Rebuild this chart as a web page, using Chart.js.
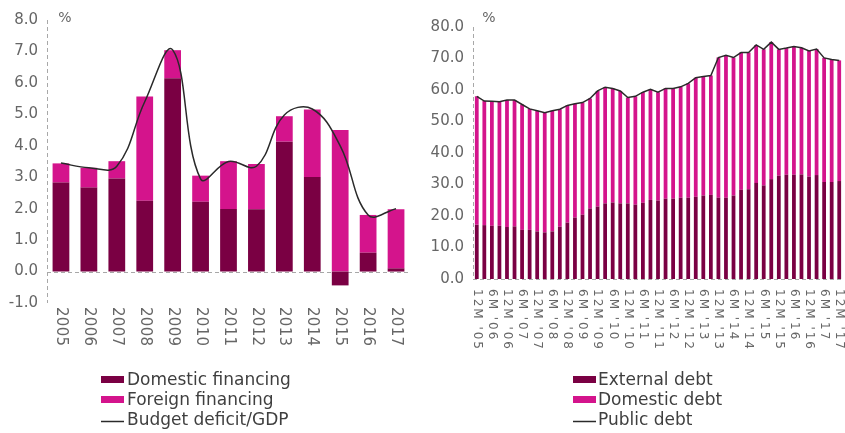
<!DOCTYPE html>
<html><head><meta charset="utf-8">
<script src="https://cdn.jsdelivr.net/npm/chart.js@4/dist/chart.umd.min.js"></script>
<style>
html,body{margin:0;padding:0;background:#fff;}
#wrap{position:relative;width:845px;height:433px;overflow:hidden;}
#left{position:absolute;left:0;top:0;}
#right{position:absolute;left:425px;top:0;}
</style></head><body>
<div id="wrap">
<canvas id="left" width="425" height="433"></canvas>
<canvas id="right" width="420" height="433"></canvas>
</div>
<script>
// ---------- Left chart data ----------
const years = ['2005','2006','2007','2008','2009','2010','2011','2012','2013','2014','2015','2016','2017'];
const domesticFinancing = [2.83, 2.67, 2.96, 2.25, 6.15, 2.22, 1.99, 1.98, 4.13, 3.01, -0.44, 0.60, 0.10];
const foreignFinancing  = [0.61, 0.63, 0.55, 3.32, 0.89, 0.83, 1.52, 1.44, 0.81, 2.14, 4.50, 1.20, 1.88];
const budgetDeficit     = [3.45, 3.30, 3.35, 5.40, 7.05, 2.95, 3.50, 3.35, 4.98, 5.17, 4.00, 1.80, 2.00];
const leftSeriesNames = ['Domestic financing', 'Foreign financing', 'Budget deficit/GDP'];

// ---------- Right chart data ----------
const quarters = ["12M '05",
  "3M '06","6M '06","9M '06","12M '06",
  "3M '07","6M '07","9M '07","12M '07",
  "3M '08","6M '08","9M '08","12M '08",
  "3M '09","6M '09","9M '09","12M '09",
  "3M '10","6M '10","9M '10","12M '10",
  "3M '11","6M '11","9M '11","12M '11",
  "3M '12","6M '12","9M '12","12M '12",
  "3M '13","6M '13","9M '13","12M '13",
  "3M '14","6M '14","9M '14","12M '14",
  "3M '15","6M '15","9M '15","12M '15",
  "3M '16","6M '16","9M '16","12M '16",
  "3M '17","6M '17","9M '17","12M '17"];
const externalDebt = [17.2,17.1,16.9,16.9,16.5,16.7,15.6,15.6,15.1,14.8,15.1,16.6,17.9,19.5,20.4,22.4,23.0,24.0,24.3,24.0,24.0,23.6,24.2,25.1,24.9,25.5,25.5,25.8,25.8,26.1,26.5,26.7,25.8,25.8,26.5,28.3,28.5,30.5,29.7,31.7,32.8,33.1,33.1,33.2,32.5,33.0,30.8,30.8,31.1];
const domesticDebt = [40.8,39.4,39.5,39.4,40.3,40.1,39.8,38.4,38.3,38.0,38.3,37.3,37.2,36.1,35.6,34.9,36.7,36.9,36.2,35.7,33.6,34.4,35.1,35.1,34.4,35.0,35.0,35.2,36.3,37.8,37.8,37.9,44.5,45.2,43.8,43.6,43.4,43.8,43.2,43.5,40.1,40.2,40.7,40.2,39.9,40.0,39.4,38.9,38.3];
const publicDebt   = [58.0,56.5,56.4,56.3,56.8,56.8,55.4,54.0,53.4,52.8,53.4,53.9,55.1,55.6,56.0,57.3,59.7,60.9,60.5,59.7,57.6,58.0,59.3,60.2,59.3,60.5,60.5,61.0,62.1,63.9,64.3,64.6,70.3,71.0,70.3,71.9,71.9,74.3,72.9,75.2,72.9,73.3,73.8,73.4,72.4,73.0,70.2,69.7,69.4];
const rightSeriesNames = ['External debt', 'Domestic debt', 'Public debt'];

// ---------- Styles ----------
const FONT = "'DejaVu Sans', sans-serif";
const DARK = '#7a0043';
const MAG = '#d4148c';
const LINE = '#2a2a2a';
const TICK = '#666666';
const AXIS = '#a8a8a8';

function rotatedTicksPlugin(labels, every, gap, size, spacing) {
  return {
    id: 'rotatedTicks',
    afterDraw(chart) {
      const ctx = chart.ctx, xs = chart.scales.x;
      ctx.save();
      ctx.font = size + 'px ' + FONT;
      ctx.fillStyle = TICK;
      ctx.textAlign = 'left';
      ctx.textBaseline = 'middle';
      if ('letterSpacing' in ctx) ctx.letterSpacing = spacing + 'px';
      labels.forEach((lab, i) => {
        if (i % every !== 0) return;
        const x = xs.getPixelForValue(i);
        ctx.save();
        ctx.translate(x, xs.top + gap);
        ctx.rotate(Math.PI / 2);
        ctx.fillText(lab, 0, 0);
        ctx.restore();
      });
      ctx.restore();
    }
  };
}

function unitPlugin(dx) {
  return {
    id: 'unitLabel',
    afterDraw(chart) {
      const ctx = chart.ctx;
      ctx.save();
      ctx.font = '14px ' + FONT;
      ctx.fillStyle = TICK;
      ctx.textAlign = 'center';
      ctx.textBaseline = 'middle';
      ctx.fillText('%', chart.chartArea.left + dx, 18);
      ctx.restore();
    }
  };
}

// dashed axis line at the left of the plot and dashed zero line, placed from the scales
function axisLinesPlugin() {
  return {
    id: 'axisLines',
    beforeDatasetsDraw(chart) {
      const ctx = chart.ctx, ys = chart.scales.y, a = chart.chartArea;
      ctx.save();
      ctx.strokeStyle = AXIS;
      ctx.lineWidth = 1;
      ctx.setLineDash([4, 3]);
      const x = Math.round(a.left) + 0.5;
      ctx.beginPath(); ctx.moveTo(x, a.top); ctx.lineTo(x, a.bottom); ctx.stroke();
      const y0 = Math.round(ys.getPixelForValue(0)) + 0.5;
      ctx.beginPath(); ctx.moveTo(a.left, y0); ctx.lineTo(a.right, y0); ctx.stroke();
      ctx.restore();
    }
  };
}

function legendPlugin(boxX, textX, baselines) {
  return {
    id: 'stackedLegend',
    afterDraw(chart) {
      const ctx = chart.ctx;
      ctx.save();
      ctx.font = '17px ' + FONT;
      ctx.textAlign = 'left';
      ctx.textBaseline = 'alphabetic';
      chart.data.datasets.forEach((ds, i) => {
        const b = baselines[i];
        if (ds.type === 'line') {
          ctx.strokeStyle = ds.borderColor;
          ctx.lineWidth = 1.5;
          ctx.beginPath();
          ctx.moveTo(boxX, b - 3.5);
          ctx.lineTo(boxX + 23, b - 3.5);
          ctx.stroke();
        } else {
          ctx.fillStyle = ds.backgroundColor;
          ctx.fillRect(boxX, b - 9, 23, 7);
        }
        ctx.fillStyle = '#3f3f3f';
        ctx.fillText(ds.label, textX, b);
      });
      ctx.restore();
    }
  };
}

function yAxis(min, max, step, width, pad) {
  return {
    stacked: true, min, max,
    ticks: { stepSize: step, callback: v => Number(v).toFixed(1), color: TICK, font: { family: FONT, size: 15 }, padding: pad },
    grid: { display: false, drawTicks: false, tickLength: 0 },
    border: { display: false },
    afterFit(s) { s.width = width; }
  };
}

function xAxis(height) {
  return {
    stacked: true, offset: true,
    grid: { display: false, drawTicks: false, tickLength: 0 }, border: { display: false },
    ticks: { display: false },
    afterFit(s) { s.height = height; }
  };
}

Chart.defaults.font.family = FONT;

new Chart(document.getElementById('left'), {
  type: 'bar',
  data: {
    labels: years,
    datasets: [
      { type: 'bar', label: leftSeriesNames[0], data: domesticFinancing, backgroundColor: DARK, barPercentage: 0.6, categoryPercentage: 1, order: 1 },
      { type: 'bar', label: leftSeriesNames[1], data: foreignFinancing, backgroundColor: MAG, barPercentage: 0.6, categoryPercentage: 1, order: 1 },
      { type: 'line', label: leftSeriesNames[2], data: budgetDeficit, stack: 'line', borderColor: LINE, borderWidth: 1.5, tension: 0.4, pointRadius: 0, fill: false, order: 0 }
    ]
  },
  options: {
    responsive: false, animation: false,
    layout: { padding: { top: 20, right: 15, bottom: 80, left: 0 } },
    plugins: { legend: { display: false }, tooltip: { enabled: false } },
    scales: { x: xAxis(50), y: yAxis(-1, 8, 1, 47, 9) }
  },
  plugins: [axisLinesPlugin(), rotatedTicksPlugin(years, 1, 4, 15, 0.3), unitPlugin(18), legendPlugin(101, 127, [385, 405, 425])]
});

new Chart(document.getElementById('right'), {
  type: 'bar',
  data: {
    labels: quarters,
    datasets: [
      { type: 'bar', label: rightSeriesNames[0], data: externalDebt, backgroundColor: DARK, barPercentage: 0.5, categoryPercentage: 1, order: 1 },
      { type: 'bar', label: rightSeriesNames[1], data: domesticDebt, backgroundColor: MAG, barPercentage: 0.5, categoryPercentage: 1, order: 1 },
      { type: 'line', label: rightSeriesNames[2], data: publicDebt, stack: 'line', borderColor: LINE, borderWidth: 1.5, tension: 0, pointRadius: 0, fill: false, order: 0 }
    ]
  },
  options: {
    responsive: false, animation: false,
    layout: { padding: { top: 27, right: 2, bottom: 80, left: 0 } },
    plugins: { legend: { display: false }, tooltip: { enabled: false } },
    scales: { x: xAxis(74), y: yAxis(0, 80, 10, 48, 9) }
  },
  plugins: [axisLinesPlugin(), rotatedTicksPlugin(quarters, 2, 10, 12, 2), unitPlugin(16), legendPlugin(148, 173, [385, 405, 425])]
});
</script>
</body></html>
